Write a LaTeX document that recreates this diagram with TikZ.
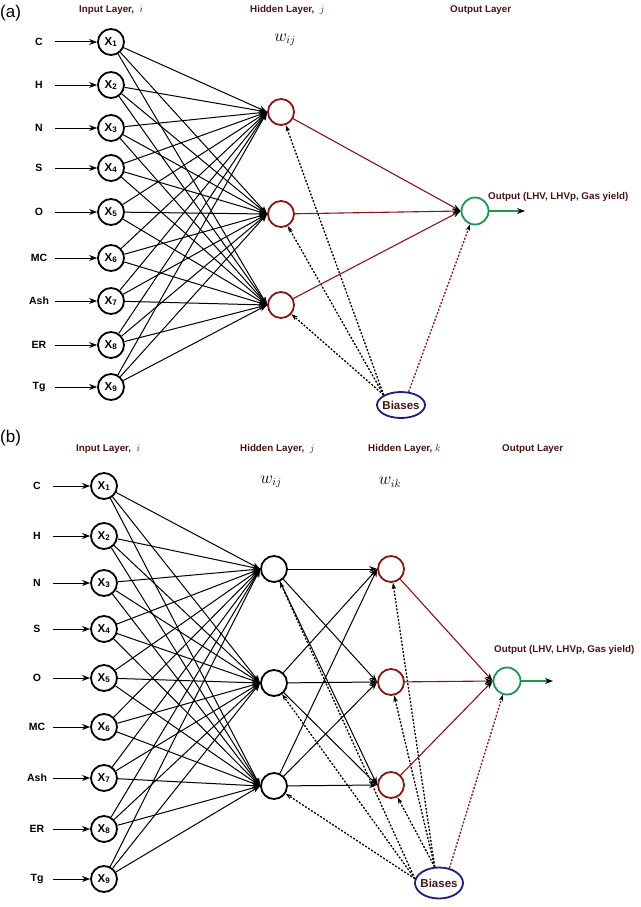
\documentclass[tikz,border=0pt]{standalone}
\usepackage{fontspec}
\setmainfont{Liberation Sans}
\usetikzlibrary{arrows.meta,shapes.geometric}
\definecolor{dred}{RGB}{140,20,20}
\definecolor{dgreen}{RGB}{30,150,80}
\definecolor{navyc}{RGB}{30,30,120}
\definecolor{hdrc}{RGB}{75,20,20}
\begin{document}
\begin{tikzpicture}[x=1pt,y=-1pt,
  inp/.style={circle,draw,line width=1.8pt,minimum size=26pt,inner sep=0pt,font=\bfseries\fontsize{11.5}{11.5}\selectfont},
  hidr/.style={circle,draw=dred,line width=1.8pt,minimum size=26pt,inner sep=0pt},
  hidb/.style={circle,draw=black,line width=1.8pt,minimum size=26pt,inner sep=0pt},
  outn/.style={circle,draw=dgreen,line width=1.8pt,minimum size=27pt,inner sep=0pt},
  hdr/.style={anchor=west,inner sep=0pt,text=hdrc,font=\bfseries\fontsize{9.8}{11}\selectfont},
  lbl/.style={inner sep=0pt,minimum width=32pt,font=\bfseries\fontsize{10.5}{12}\selectfont},
  wlbl/.style={inner sep=0pt,font=\fontsize{16}{16}\selectfont},
  panel/.style={anchor=west,inner sep=0pt,font=\fontsize{17}{17}\selectfont},
  atip/.style={-{Stealth[length=8pt,width=6pt,black]}},
  conn/.style={atip,line width=1pt},
  rconn/.style={atip,draw=dred,line width=1.1pt},
  gconn/.style={atip,draw=dgreen,line width=1.3pt},
  bconn/.style={-{Stealth[length=6.5pt,width=4.5pt,black]},dash pattern=on 2pt off 1.6pt,line width=1.3pt},
  rbconn/.style={bconn,draw=dred},
  biasn/.style={ellipse,draw=navyc,line width=1.8pt,minimum width=48pt,inner xsep=-3pt,inner ysep=0pt,text=hdrc,font=\bfseries\fontsize{11.5}{12}\selectfont},
]
\useasboundingbox (0,0) rectangle (640,907);
% ---------------- panel (a)
\node[panel] (pa) at (0,13) {(a)};
\node[hdr] (ha1) at (79,10) {Input Layer, \ $i$};
\node[hdr] (ha2) at (250,10) {Hidden Layer, \ $j$};
\node[hdr] (ha3) at (450,10) {Output Layer};
\node[wlbl] (wa) at (285,40) {$w_{ij}$};
\foreach \n/\y/\l in {1/42/C,2/85/H,3/128/N,4/168/S,5/212/O,6/258/MC,7/301/Ash,8/345/ER,9/387/Tg}{
  \node[lbl] (al\n) at (39,\y) {\l};
  \node[inp] (ax\n) at (111,\y) {X\textsubscript{\n}};
  \draw[conn] (al\n) -- (ax\n);
}
\foreach \j/\y in {1/112,2/214,3/305}{
  \node[hidr] (ah\j) at (281,\y) {};
}
\node[outn] (aout) at (475,211) {};
\node[hdr] (aoutl) at (488,197) {Output (LHV, LHVp, Gas yield)};
\coordinate (aend) at (525,211);
\draw[gconn] (aout) -- (aend);
\node[biasn,minimum height=26pt] (abias) at (401,405) {Biases};
\foreach \i in {1,...,9}{
  \foreach \j in {1,2,3}{
    \draw[conn] (ax\i) -- (ah\j.west);
  }
}
\foreach \j in {1,2,3}{
  \draw[rconn] (ah\j) -- (aout.west);
  \draw[bconn] (abias.150) -- (ah\j);
}
\draw[rbconn] (abias.60) -- (aout);
% ---------------- panel (b)
\node[panel] (pb) at (0,438) {(b)};
\node[hdr] (hb1) at (76,449) {Input Layer, \ $i$};
\node[hdr] (hb2) at (240,449) {Hidden Layer, \ $j$};
\node[hdr] (hb3) at (368,449) {Hidden Layer, $k$};
\node[hdr] (hb4) at (502,449) {Output Layer};
\node[wlbl] (wb1) at (271,482) {$w_{ij}$};
\node[wlbl] (wb2) at (390,482) {$w_{ik}$};
\foreach \n/\y/\l in {1/486/C,2/536/H,3/583/N,4/629/S,5/678/O,6/727/MC,7/778/Ash,8/829/ER,9/879/Tg}{
  \node[lbl] (bl\n) at (37,\y) {\l};
  \node[inp] (bx\n) at (104,\y) {X\textsubscript{\n}};
  \draw[conn] (bl\n) -- (bx\n);
}
\foreach \j/\y in {1/569,2/683,3/786}{
  \node[hidb] (bj\j) at (274,\y) {};
}
\foreach \k/\y in {1/569,2/682,3/785}{
  \node[hidr] (bk\k) at (391,\y) {};
}
\node[outn] (bout) at (507,681) {};
\node[hdr] (boutl) at (494,650) {Output (LHV, LHVp, Gas yield)};
\coordinate (bend) at (553,681);
\draw[gconn] (bout) -- (bend);
\node[biasn,minimum height=31pt] (bbias) at (439,883) {Biases};
\foreach \i in {1,...,9}{
  \foreach \j in {1,2,3}{
    \draw[conn] (bx\i) -- (bj\j.west);
  }
}
\foreach \j in {1,2,3}{
  \foreach \k in {1,2,3}{
    \draw[conn] (bj\j) -- (bk\k.west);
  }
}
\foreach \k in {1,2,3}{
  \draw[rconn] (bk\k) -- (bout.west);
  \draw[bconn] (bbias.170) -- (bj\k);
  \draw[bconn] (bbias.105) -- (bk\k);
}
\draw[rbconn] (bbias.55) -- (bout);
\end{tikzpicture}
\end{document}
